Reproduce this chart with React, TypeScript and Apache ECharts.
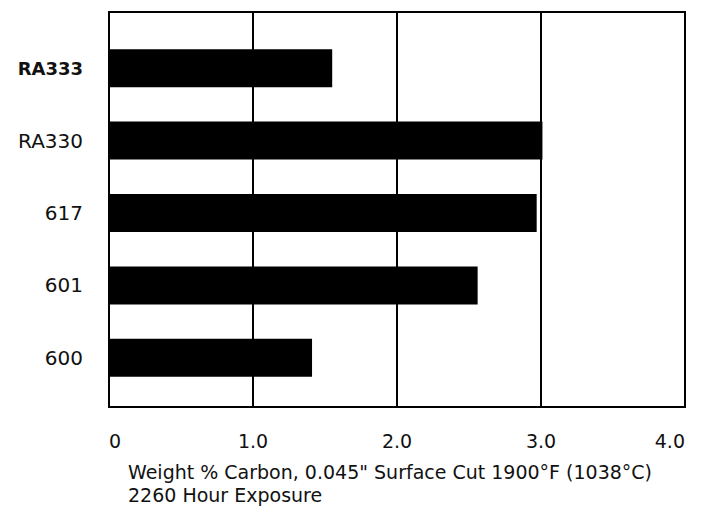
import React, { useEffect, useRef } from "react";
import * as echarts from "echarts";

const categories = ["RA333", "RA330", "617", "601", "600"];
const carbonValues = [1.55, 3.01, 2.97, 2.56, 1.41];
const xTickLabels: Record<string, string> = { "0": "0", "1": "1.0", "2": "2.0", "3": "3.0", "4": "4.0" };
const captionLines = [
  "Weight % Carbon, 0.045\" Surface Cut 1900°F (1038°C)",
  "2260 Hour Exposure",
];

const FONT = "DejaVu Sans";

export default function App() {
  const ref = useRef<HTMLDivElement>(null);
  useEffect(() => {
    if (!ref.current) return;
    const chart = echarts.init(ref.current, undefined, { renderer: "svg" });
    chart.setOption({
      animation: false,
      backgroundColor: "#ffffff",
      title: {
        text: captionLines.join("\n"),
        left: 128,
        top: 460,
        padding: 0,
        textStyle: { fontFamily: FONT, fontSize: 19, fontWeight: "normal", color: "#111", lineHeight: 23 },
      },
      grid: [
        { left: 109, right: 18, top: 12, bottom: 111, show: true, borderColor: "#000", borderWidth: 2, backgroundColor: "transparent" },
        { left: 109, right: 18, top: 32, bottom: 124 },
      ],
      xAxis: [
        {
          gridIndex: 0,
          type: "value",
          min: 0,
          max: 4,
          interval: 1,
          axisLine: { show: true, lineStyle: { color: "#000", width: 2 } },
          axisTick: { show: false },
          splitLine: { show: true, lineStyle: { color: "#000", width: 2 } },
          axisLabel: {
            margin: 24,
            fontFamily: FONT,
            fontSize: 19,
            color: "#111",
            alignMinLabel: "left",
            alignMaxLabel: "right",
            formatter: (v: number) => xTickLabels[String(v)] ?? String(v),
          },
        },
        { gridIndex: 1, type: "value", min: 0, max: 4, show: false },
      ],
      yAxis: [
        { gridIndex: 0, type: "value", show: false, splitLine: { show: false } },
        {
          gridIndex: 1,
          type: "category",
          data: categories,
          inverse: true,
          axisLine: { show: false },
          axisTick: { show: false },
          axisLabel: {
            margin: 26,
            color: "#111",
            fontFamily: FONT,
            formatter: (v: string) => (v === "RA333" ? `{b|${v}}` : `{n|${v}}`),
            rich: {
              b: { fontFamily: FONT, fontWeight: "bold", fontSize: 18, color: "#111" },
              n: { fontFamily: FONT, fontWeight: "normal", fontSize: 20, color: "#111" },
            },
          },
        },
      ],
      series: [
        {
          type: "bar",
          xAxisIndex: 1,
          yAxisIndex: 1,
          data: carbonValues,
          barWidth: 38,
          itemStyle: { color: "#000" },
          z: 3,
        },
      ],
    });
    return () => chart.dispose();
  }, []);
  return <div ref={ref} style={{ width: 703, height: 518, position: "absolute", left: 0, top: 0 }} />;
}
